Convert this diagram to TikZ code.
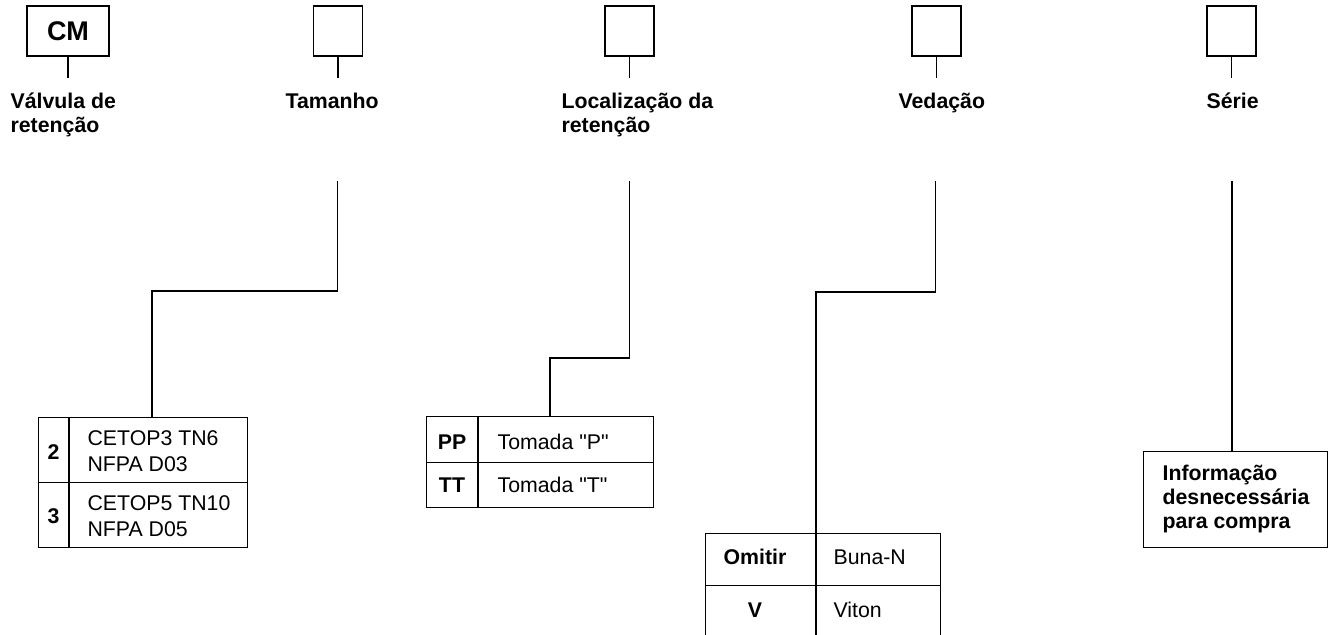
\documentclass[tikz,border=0pt]{standalone}
\usepackage{fontspec}
\setmainfont{Liberation Sans}[Ligatures=TeXOff]
\begin{document}
\begin{tikzpicture}[x=1pt,y=-1pt,
  line width=1.2pt,
  every node/.style={inner sep=0pt, font=\fontsize{21.3}{24}\selectfont},
  codebox/.style={draw, minimum width=49pt, minimum height=50pt},
  lbl/.style={anchor=base west, font=\fontsize{21.3}{24}\selectfont\bfseries},
  cell/.style={anchor=base west},
  keycell/.style={anchor=base, font=\fontsize{21.3}{24}\selectfont\bfseries},
  frame/.style={draw, anchor=north west}
]
\clip (0,0) rectangle (1329,634);
\fill[white] (0,0) rectangle (1329,634);

% top code boxes
\node[codebox, minimum width=82pt, font=\fontsize{27}{30}\selectfont\bfseries] (cm) at (68,31) {CM};
\node[codebox] (tam) at (338,31) {};
\node[codebox] (loc) at (629.5,31) {};
\node[codebox] (ved) at (936.5,31) {};
\node[codebox] (ser) at (1231.5,31) {};

\coordinate (cms) at (68,78);
\coordinate (tams) at (338,78);
\coordinate (locs) at (629.5,78);
\coordinate (veds) at (936.5,78);
\coordinate (sers) at (1231.5,78);
\draw (cm.south) -- (cms);
\draw (tam.south) -- (tams);
\draw (loc.south) -- (locs);
\draw (ved.south) -- (veds);
\draw (ser.south) -- (sers);

% labels
\node[lbl] (lcm) at (10,108) {\begin{tabular}[t]{@{}l@{}}Válvula de\\retenção\end{tabular}};
\node[lbl] (ltam) at (285,108) {Tamanho};
\node[lbl] (lloc) at (561,108) {\begin{tabular}[t]{@{}l@{}}Localização da\\retenção\end{tabular}};
\node[lbl] (lved) at (898,108) {Vedação};
\node[lbl] (lser) at (1206,108) {Série};

% tables
% Tamanho
\node[frame, minimum width=209pt, minimum height=130pt] (tamtab) at (38,417) {};
\coordinate (tamdv1) at (69,417);
\coordinate (tamdv2) at (69,547);
\draw (tamdv1) -- (tamdv2);
\draw (tamtab.west) -- (tamtab.east);
\node[keycell, anchor=center] (k2) at (53.5,452) {2};
\node[keycell, anchor=center] (k3) at (53.5,516) {3};
\node[cell] (v2) at (87,445) {\fontsize{21.3}{26}\selectfont\begin{tabular}[t]{@{}l@{}}CETOP3 TN6\\NFPA D03\end{tabular}};
\node[cell] (v3) at (87,510) {\fontsize{21.3}{26}\selectfont\begin{tabular}[t]{@{}l@{}}CETOP5 TN10\\NFPA D05\end{tabular}};

% Localizacao
\node[frame, minimum width=227pt, minimum height=91pt] (loctab) at (426,416) {};
\coordinate (locdv1) at (478,416);
\coordinate (locdv2) at (478,507);
\draw (locdv1) -- (locdv2);
\draw (loctab.west) -- (loctab.east);
\node[keycell] (kpp) at (452,449.5) {PP};
\node[keycell] (ktt) at (452,492) {TT};
\node[cell] (vpp) at (497,449.5) {Tomada "P"};
\node[cell] (vtt) at (497,492) {Tomada "T"};

% Vedacao
\node[frame, minimum width=235pt, minimum height=104pt] (vedtab) at (705,533) {};
\coordinate (veddv1) at (816,533);
\coordinate (veddv2) at (816,637);
\draw (veddv1) -- (veddv2);
\draw (vedtab.west) -- (vedtab.east);
\node[keycell] (kom) at (755,564) {Omitir};
\node[keycell] (kv) at (755,617) {V};
\node[cell] (vom) at (833,564) {Buna-N};
\node[cell] (vv) at (833,617) {Viton};

% Serie
\node[frame, minimum width=184pt, minimum height=96pt] (sertab) at (1143,451) {};
\node[lbl] (vser) at (1162,480) {\begin{tabular}[t]{@{}l@{}}Informação\\desnecessária\\para compra\end{tabular}};

% connectors
\coordinate (tamt) at (337.5,181);
\coordinate (tamh) at (152,291);
\draw (tamt) |- (tamh) -- (tamh |- tamtab.north);

\coordinate (loct) at (629.5,181);
\coordinate (loch) at (550,358);
\draw (loct) |- (loch) -- (loch |- loctab.north);

\coordinate (vedt) at (935.5,181);
\coordinate (vedh) at (816,292);
\draw (vedt) |- (vedh) -- (vedh |- vedtab.north);

\coordinate (sert) at (1232,181);
\draw (sert) -- (sert |- sertab.north);
\end{tikzpicture}
\end{document}
